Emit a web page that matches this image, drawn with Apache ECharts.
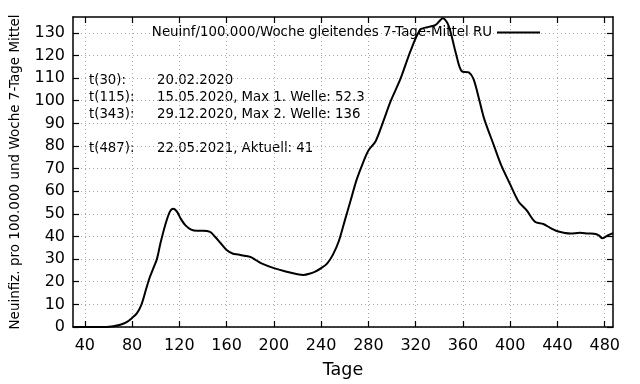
<!DOCTYPE html>
<html>
<head>
<meta charset="utf-8">
<script src="https://cdn.jsdelivr.net/npm/echarts@6/dist/echarts.min.js"></script>
<style>html,body{margin:0;padding:0;background:#fff}#c{width:640px;height:384px}</style>
</head>
<body>
<div id="c"></div>
<script>
const days = [30, 40, 50, 58, 64, 70, 75, 80, 84, 88, 92, 95, 98, 101, 104, 108, 112, 115, 118, 121, 125, 130, 135, 140, 146, 150, 155, 160, 165, 170, 175, 180, 185, 190, 200, 210, 220, 225, 230, 235, 240, 245, 250, 255, 260, 265, 270, 275, 280, 286, 292, 299, 307, 316, 324, 330, 337, 343, 348, 354, 359, 365, 369, 374, 378, 386, 392, 400, 407, 414, 421, 428, 435, 440, 451, 459, 466, 471, 475, 478, 483, 487];
const values = [0, 0, 0, 0, 0.3, 1.0, 2, 4, 6, 10, 17, 22, 26, 30, 37, 45, 51, 52.3, 51, 48, 45, 43, 42.5, 42.5, 42, 40, 37, 34, 32.5, 32, 31.5, 31, 29.5, 28, 26, 24.5, 23.3, 23, 23.5, 24.5, 26, 28, 32, 38, 47, 56, 65, 72, 78, 82, 90, 100, 109.5, 122.5, 131.5, 132.5, 133.5, 136.5, 133, 121, 113, 112.5, 109.5, 100, 92, 80.5, 72, 63, 55.5, 51.5, 46.5, 45.5, 43.5, 42.3, 41.3, 41.6, 41.3, 41.2, 40.5, 39.2, 40.6, 41.5];
const xTicks = [40, 80, 120, 160, 200, 240, 280, 320, 360, 400, 440, 480];
const yTicks = [0, 10, 20, 30, 40, 50, 60, 70, 80, 90, 100, 110, 120, 130];
const seriesName = 'Neuinf/100.000/Woche gleitendes 7-Tage-Mittel RU';
const notesLeft = ['t(30):', 't(115):', 't(343):', 't(487):'];
const notesRight = ['20.02.2020', '15.05.2020, Max 1. Welle: 52.3', '29.12.2020, Max 2. Welle: 136', '22.05.2021, Aktuell: 41'];

const FONT = 'DejaVu Sans';
const chart = echarts.init(document.getElementById('c'), null, {renderer: 'canvas'});
const data = days.map((d, i) => [d, values[i]]);
const gridLine = {show: true, lineStyle: {color: '#a8a8a8', type: [1, 3], width: 1}};
const noteY = [80, 97, 114, 148];
const graphics = [];
notesLeft.forEach((t, i) => {
  graphics.push({type: 'text', left: 89, top: noteY[i] - 6, style: {text: t, font: '13.3px "DejaVu Sans"', fill: '#000'}});
  graphics.push({type: 'text', left: 157, top: noteY[i] - 6, style: {text: notesRight[i], font: '13.3px "DejaVu Sans"', fill: '#000'}});
});

chart.setOption({
  animation: false,
  backgroundColor: '#fff',
  textStyle: {fontFamily: FONT},
  grid: {left: 72, right: 27, top: 17, bottom: 55},
  legend: {
    data: [{name: seriesName, icon: 'rect'}],
    right: 100, top: 26, padding: 0, align: 'right',
    itemWidth: 43, itemHeight: 2, itemGap: 8,
    textStyle: {fontFamily: FONT, fontSize: 13.4, color: '#000'},
    itemStyle: {color: '#000'}
  },
  xAxis: [{
    type: 'value', min: 30, max: 487, position: 'bottom',
    name: 'Tage', nameLocation: 'middle', nameGap: 34,
    nameTextStyle: {fontFamily: FONT, fontSize: 17.5, color: '#000'},
    axisLine: {show: true, onZero: false, lineStyle: {color: '#000', width: 1.5}},
    axisTick: {show: true, inside: true, length: 6, customValues: xTicks, lineStyle: {color: '#000', width: 1.2}},
    axisLabel: {customValues: xTicks, fontFamily: FONT, fontSize: 16, color: '#000', margin: 11},
    splitLine: gridLine
  }, {
    type: 'value', min: 30, max: 487, position: 'top',
    axisLine: {show: true, onZero: false, lineStyle: {color: '#000', width: 1.5}},
    axisTick: {show: true, inside: true, length: 6, customValues: xTicks, lineStyle: {color: '#000', width: 1.2}},
    axisLabel: {show: false, customValues: xTicks},
    splitLine: {show: false}
  }],
  yAxis: [{
    type: 'value', min: 0, max: 137, position: 'left',
    name: 'Neuinfiz. pro 100.000 und Woche 7-Tage Mittel', nameLocation: 'middle', nameGap: 51,
    nameTextStyle: {fontFamily: FONT, fontSize: 13.5, color: '#000'},
    axisLine: {show: true, onZero: false, lineStyle: {color: '#000', width: 1.5}},
    axisTick: {show: true, inside: true, length: 6, customValues: yTicks, lineStyle: {color: '#000', width: 1.2}},
    axisLabel: {customValues: yTicks, fontFamily: FONT, fontSize: 16, color: '#000', margin: 8},
    splitLine: gridLine
  }, {
    type: 'value', min: 0, max: 137, position: 'right',
    axisLine: {show: true, onZero: false, lineStyle: {color: '#000', width: 1.5}},
    axisTick: {show: true, inside: true, length: 6, customValues: yTicks, lineStyle: {color: '#000', width: 1.2}},
    axisLabel: {show: false, customValues: yTicks},
    splitLine: {show: false}
  }],
  graphic: graphics,
  series: [{
    name: seriesName, type: 'line', data: data,
    xAxisIndex: 0, yAxisIndex: 0,
    smooth: 0.3, showSymbol: false, symbol: 'none',
    lineStyle: {color: '#000', width: 2},
    itemStyle: {color: '#000'}
  }]
});
</script>
</body>
</html>
